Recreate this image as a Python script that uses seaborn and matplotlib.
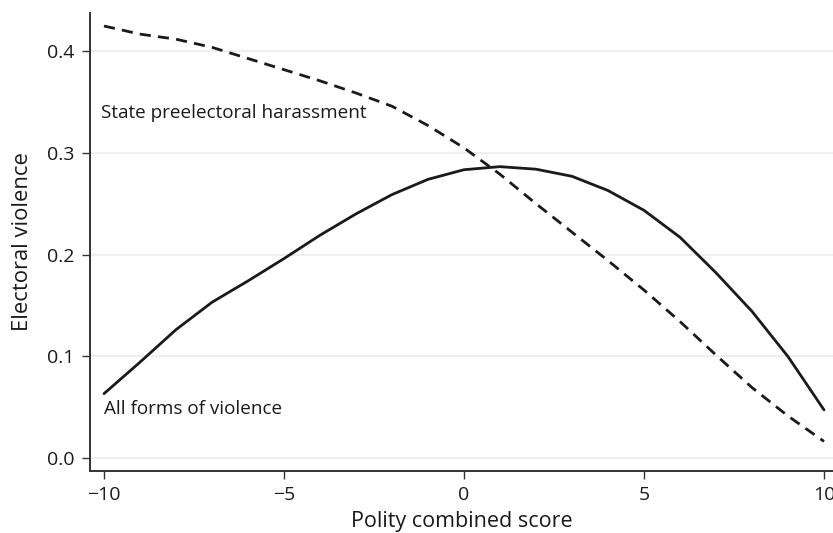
import matplotlib
matplotlib.use("Agg")
import matplotlib.pyplot as plt
import seaborn as sns
import pandas as pd

polity = list(range(-10, 11))
all_forms = [0.063, 0.094, 0.126, 0.153, 0.174, 0.196, 0.219, 0.240, 0.259, 0.274, 0.2835,
             0.2865, 0.284, 0.277, 0.263, 0.2435, 0.217, 0.182, 0.144, 0.0995, 0.047]
state_harass = [0.425, 0.417, 0.412, 0.404, 0.393, 0.382, 0.371, 0.359, 0.346, 0.327, 0.305,
                0.279, 0.250, 0.222, 0.194, 0.165, 0.134, 0.101, 0.069, 0.041, 0.016]
labels = ["State preelectoral harassment", "All forms of violence"]
yticks = [0.0, 0.1, 0.2, 0.3, 0.4]
xticks = [-10, -5, 0, 5, 10]

sns.set_theme(style="white")
plt.rcParams['font.family'] = ['Open Sans', 'DejaVu Sans']

df = pd.DataFrame({"x": polity * 2,
                   "y": state_harass + all_forms,
                   "series": [labels[0]] * len(polity) + [labels[1]] * len(polity)})

fig = plt.figure(figsize=(8.33, 5.33), dpi=100)
ax = fig.add_axes([0.108, 0.117, 0.892, 0.859])

for yt in yticks:
    ax.axhline(yt, color="#ebebeb", lw=1.2, zorder=0)

sns.lineplot(data=df, x="x", y="y", style="series", hue="series",
             palette={labels[0]: "#1a1a1a", labels[1]: "#1a1a1a"},
             dashes={labels[0]: (4, 2.6), labels[1]: ""},
             lw=2.0, legend=False, ax=ax)

ax.text(-10.09, 0.3396, labels[0], fontsize=13.6, va="center", ha="left", color="#1a1a1a")
ax.text(-10.0, 0.0477, labels[1], fontsize=13.6, va="center", ha="left", color="#1a1a1a")

ax.set_xlim(-10.39, 10.25)
ax.set_ylim(-0.0128, 0.438)
ax.set_xticks(xticks)
ax.set_xticklabels(["\u221210", "\u22125", "0", "5", "10"])
ax.set_yticks(yticks)
ax.set_yticklabels(["0.0", "0.1", "0.2", "0.3", "0.4"])
ax.tick_params(axis="both", which="major", length=6, width=1, color="#333333",
               labelsize=14, labelcolor="#1a1a1a", bottom=True, left=True, pad=5)
ax.set_xlabel("Polity combined score", fontsize=15.5, color="#1a1a1a", labelpad=5)
ax.set_ylabel("Electoral violence", fontsize=15.8, color="#1a1a1a", labelpad=10)

for s in ["top", "right"]:
    ax.spines[s].set_visible(False)
for s in ["left", "bottom"]:
    ax.spines[s].set_color("#333333")
    ax.spines[s].set_linewidth(1.4)

fig.savefig("out.png", dpi=100)
